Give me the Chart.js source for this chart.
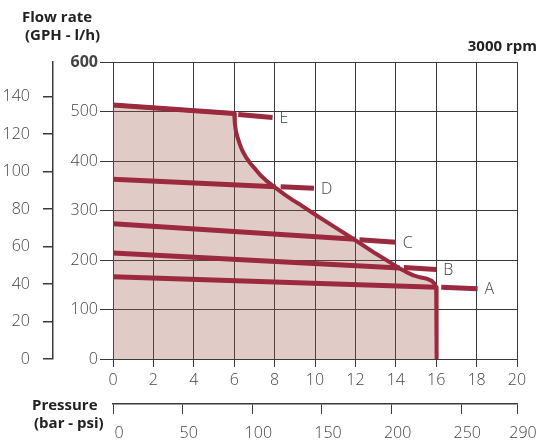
<!DOCTYPE html>
<html>
<head>
<meta charset="utf-8">
<script src="https://cdn.jsdelivr.net/npm/chart.js@4.4.1/dist/chart.umd.min.js"></script>
<style>
html,body{margin:0;padding:0;background:#fff;}
#wrap{width:542px;height:444px;position:relative;}
</style>
</head>
<body>
<div id="wrap"><canvas id="c" width="542" height="444"></canvas></div>
<script>
// ---- data ----
const xTicksBar = [0,2,4,6,8,10,12,14,16,18,20];
const xTicksPsi = [0,50,100,150,200,250,290];
const yTicksLh = [0,100,200,300,400,500,600];
const yTicksGph = [0,20,40,60,80,100,120,140];
const LH_PER_GPH = 3.785;

const seriesNames = ['A','B','C','D','E'];
const lineA_in  = [{x:0,y:166},{x:16,y:145}];
const lineA_out = [{x:16.25,y:145},{x:18.05,y:142}];
const lineB_in  = [{x:0,y:214},{x:14.2,y:184}];
const lineB_out = [{x:14.4,y:185},{x:16,y:181}];
const lineC_in  = [{x:0,y:273},{x:12,y:242}];
const lineC_out = [{x:12.2,y:241},{x:14,y:236}];
const lineD_in  = [{x:0,y:363},{x:8.05,y:348}];
const lineD_out = [{x:8.3,y:348},{x:9.95,y:345}];
const lineE_in  = [{x:0,y:513},{x:6,y:496}];
const lineE_out = [{x:6.2,y:494},{x:7.9,y:488}];

const envelope = [
  {x:0,y:513},{x:6,y:496},{x:6.03,y:478},{x:6.08,y:461},{x:6.17,y:447},{x:6.27,y:435},
  {x:6.4,y:421},{x:6.58,y:408},{x:6.8,y:395},{x:7.08,y:382},{x:7.3,y:371},{x:7.57,y:361},
  {x:8.07,y:345},{x:8.5,y:332},{x:8.9,y:321},{x:9.3,y:311},{x:10,y:292},{x:11,y:266},
  {x:12,y:240},{x:13,y:213},{x:14.2,y:183},{x:14.5,y:176},{x:14.87,y:169},
  {x:15.2,y:165},{x:15.55,y:162},{x:15.78,y:158},{x:15.92,y:152},{x:16.0,y:145},{x:16.02,y:135},
  {x:16.02,y:0}
];

// ---- style ----
const RED = '#9b2a3e';
const FILL = 'rgba(155,82,65,0.3)';
const GRID = '#3a3a3a';
const TXT = '#444';
const FONT = "'Open Sans', sans-serif";
const tickFont = {family: FONT, size: 16, weight: 300};

function ln(data){
  return {data, showLine:true, borderColor:RED, borderWidth:5, pointRadius:0, fill:false,
          borderCapStyle:'butt', tension:0, order:0};
}

const labelPlugin = {
  id:'labels',
  afterDraw(chart){
    const ctx = chart.ctx, xs = chart.scales.x, ys = chart.scales.y;
    ctx.save();
    ctx.fillStyle = TXT;
    ctx.font = "300 16px " + FONT;
    ctx.textBaseline = 'middle';
    ctx.textAlign = 'left';
    const outs = [lineA_out, lineB_out, lineC_out, lineD_out, lineE_out];
    outs.forEach((d,i)=>{
      const p = d[d.length-1];
      ctx.fillText(seriesNames[i], xs.getPixelForValue(p.x)+7, ys.getPixelForValue(p.y)+1);
    });
    ctx.fillStyle = '#222';
    ctx.font = "bold 15px " + FONT;
    ctx.textBaseline = 'alphabetic';
    ctx.fillText('Flow rate', 22, 22);
    ctx.fillText('(GPH - l/h)', 25, 40);
    ctx.textAlign = 'right';
    ctx.fillText('3000 rpm', 537, 51);
    ctx.textAlign = 'left';
    ctx.fillText('Pressure', 32, 410);
    ctx.fillText('(bar - psi)', 34, 428);
    ctx.restore();
  }
};

const setTicks = arr => s => { s.ticks = arr.map(v=>({value:v})); };

new Chart(document.getElementById('c'), {
  type:'scatter',
  data:{datasets:[
    ln(lineE_in), ln(lineE_out), ln(lineD_in), ln(lineD_out), ln(lineC_in), ln(lineC_out),
    ln(lineB_in), ln(lineB_out), ln(lineA_in), ln(lineA_out),
    {data:envelope, showLine:true, borderColor:RED, borderWidth:4, pointRadius:0,
     fill:'origin', backgroundColor:FILL, tension:0, order:10, borderJoinStyle:'round'}
  ]},
  options:{
    responsive:false, animation:false, devicePixelRatio:1,
    layout:{padding:{top:62,right:25,left:0,bottom:0}},
    plugins:{legend:{display:false}, tooltip:{enabled:false}},
    scales:{
      x:{type:'linear', position:'bottom', weight:0, min:0, max:20,
         afterBuildTicks:setTicks(xTicksBar),
         grid:{color:GRID, lineWidth:1, tickLength:8},
         border:{color:GRID, width:1},
         ticks:{font:tickFont, color:TXT, padding:4, maxRotation:0},
         afterFit:s=>{s.height=45;}},
      x2:{type:'linear', position:'bottom', weight:1, min:0, max:290,
         afterBuildTicks:setTicks(xTicksPsi),
         grid:{drawOnChartArea:false, color:GRID, lineWidth:1, tickLength:10},
         border:{color:GRID, width:1.5},
         ticks:{font:tickFont, color:TXT, padding:10, maxRotation:0, labelOffset:6},
         afterFit:s=>{s.height=40;}},
      y:{type:'linear', position:'left', weight:0, min:0, max:600,
         afterBuildTicks:setTicks(yTicksLh),
         grid:{color:GRID, lineWidth:1, tickLength:13},
         border:{color:GRID, width:1},
         ticks:{color:TXT, padding:2,
                font:c=> (c.tick && c.tick.value===600) ? {family:FONT,size:16,weight:'bold'} : tickFont},
         afterFit:s=>{s.width=60;}},
      y2:{type:'linear', position:'left', weight:1, min:0, max:600/LH_PER_GPH,
         afterBuildTicks:setTicks(yTicksGph),
         grid:{drawOnChartArea:false, color:GRID, lineWidth:1.5, tickLength:10},
         border:{color:GRID, width:1.5},
         ticks:{font:tickFont, color:TXT, padding:13},
         afterFit:s=>{s.width=53;}}
    }
  },
  plugins:[labelPlugin]
});
</script>
</body>
</html>
